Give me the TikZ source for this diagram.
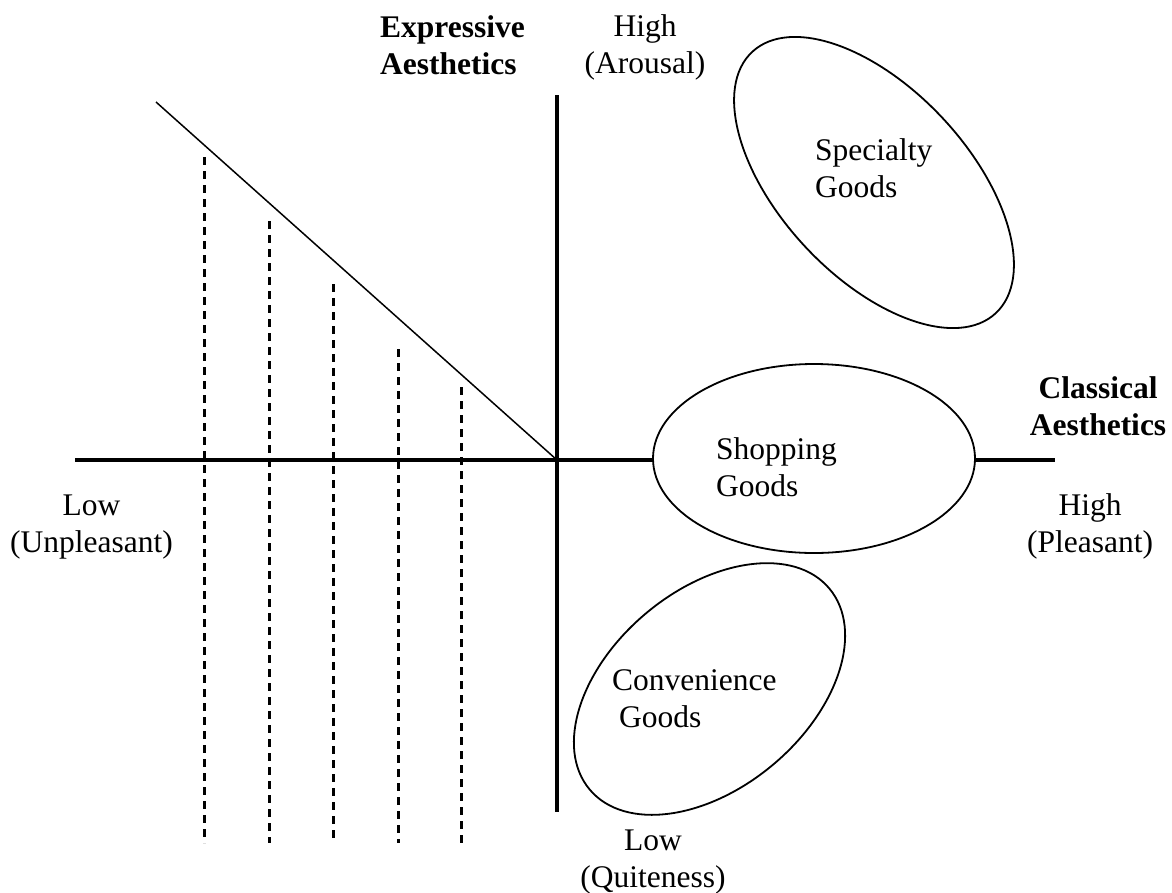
\documentclass[tikz,border=0pt]{standalone}
\usepackage{fontspec}
\setmainfont{Liberation Serif}
\begin{document}
\begin{tikzpicture}[x=1pt,y=-1pt,
  lbl/.style={inner sep=0pt,font=\fontsize{31.5}{37}\selectfont},
  head/.style={lbl,font=\fontsize{31.5}{37}\selectfont\bfseries},
  axis/.style={line width=4pt},
  guide/.style={line width=1.5pt},
  drop/.style={line width=3pt,dash pattern=on 8pt off 6pt},
  region/.style={line width=1.8pt,fill=white}]
\useasboundingbox (0,0) rectangle (1172,892);

% axes
\coordinate (O)  at (557,460);
\coordinate (xl) at (75,460);
\coordinate (xr) at (1055,460);
\coordinate (yt) at (557,95);
\coordinate (yb) at (557,812);
\draw[axis] (xl) -- (xr);
\draw[axis] (yt) -- (yb);

% diagonal boundary
\coordinate (d0) at (156,102);
\draw[guide] (d0) -- (O);

% vertical dashed drops
\foreach \x/\t [count=\i] in {204/157,269/221,333/284,398/349,461/387}{
  \coordinate (t\i) at (\x,\t);
  \coordinate (b\i) at (\x,843);
  \draw[drop] (t\i) -- (b\i);
}

% product regions
\draw[region,rotate around={-47:(874,182.5)}] (874,182.5) ellipse [x radius=178.6pt, y radius=94.1pt];
\draw[region] (814,458.5) ellipse [x radius=161pt, y radius=94.5pt];
\draw[region,rotate around={40:(709.5,689)}] (709.5,689) ellipse [x radius=156.4pt, y radius=98.8pt];

% region labels (anchored at the baseline of the last line)
\node[lbl,anchor=base west,align=left] (spec) at (815,197) {Specialty\\Goods};
\node[lbl,anchor=base west,align=left] (shop) at (716,496) {Shopping\\Goods};
\node[lbl,anchor=base west,align=left] (conv) at (612,727) {Convenience\\\hspace*{7pt}Goods};

% axis titles and ends
\node[head,anchor=base west,align=left] (expr) at (380,74) {Expressive\\Aesthetics};
\node[head,anchor=base,align=center] (clas) at (1098,435) {Classical\\Aesthetics};
\node[lbl,anchor=base,align=center] (hiA) at (645,73) {High\\(Arousal)};
\node[lbl,anchor=base,align=center] (loU) at (91.5,552) {Low\\(Unpleasant)};
\node[lbl,anchor=base,align=center] (hiP) at (1090,552) {High\\(Pleasant)};
\node[lbl,anchor=base,align=center] (loQ) at (653,887) {Low\\(Quiteness)};
\end{tikzpicture}
\end{document}
